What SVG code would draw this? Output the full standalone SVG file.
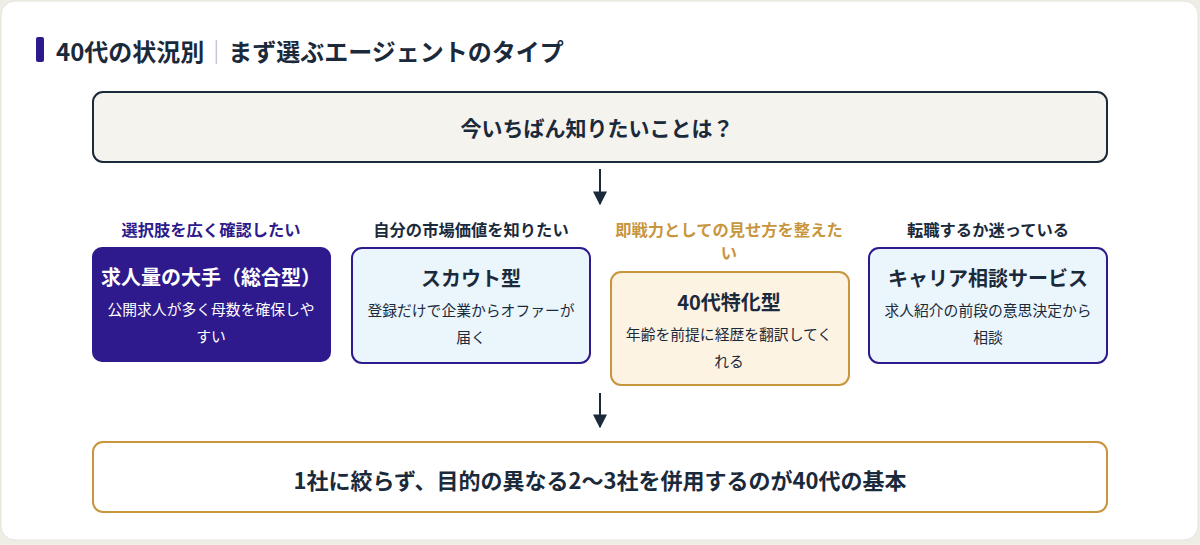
<svg xmlns="http://www.w3.org/2000/svg" width="1200" height="545" viewBox="0 0 1200 545">
<defs>
<style>
text{font-family:"Noto Sans CJK JP","Noto Sans",sans-serif;text-anchor:middle;}
.dark{fill:#1b2a3b;}
.q{font-size:16.3px;font-weight:700;}
.t{font-size:20px;font-weight:700;}
.s{font-size:14.8px;}
.conn{stroke:#1b2a3b;stroke-width:2;fill:none;marker-end:url(#ah);}
</style>
<marker id="ah" viewBox="0 0 10 10" refX="9" refY="5" markerWidth="7" markerHeight="7" orient="auto" markerUnits="strokeWidth">
<path d="M0,0 L10,5 L0,10 z" fill="#1b2a3b"/>
</marker>
</defs>
<rect x="0" y="0" width="1200" height="545" fill="#eeede6"/>
<rect x="1" y="1" width="1197" height="539" rx="14" fill="#ffffff" stroke="#e6e4da" stroke-width="1"/>
<g id="title">
<rect x="36" y="37" width="8" height="25" rx="2" fill="#2e1a8c"/>
<text x="56" y="61" style="text-anchor:start;font-size:24px;font-weight:700" class="dark">40代の状況別<tspan fill="#b8b8b8" font-weight="400">｜</tspan>まず選ぶエージェントのタイプ</text>
</g>
<g id="question">
<rect x="93" y="92" width="1014" height="70" rx="10" fill="#f4f3ee" stroke="#1b2a3b" stroke-width="2"/>
<text x="597" y="136" style="font-size:21px;font-weight:700" class="dark">今いちばん知りたいことは？</text>
</g>
<g id="opt1">
<text x="211" y="236" class="q" fill="#2e1a8c">選択肢を広く確認したい</text>
<rect x="92" y="247" width="239" height="115" rx="10" fill="#2e1a8c"/>
<text x="211" y="285" class="t" fill="#ffffff">求人量の大手（総合型）</text>
<text x="211" y="315" class="s" fill="#ffffff">公開求人が多く母数を確保しや</text>
<text x="211" y="342" class="s" fill="#ffffff">すい</text>
</g>
<g id="opt2">
<text x="471" y="236" class="q dark">自分の市場価値を知りたい</text>
<rect x="352" y="248" width="238" height="115" rx="10" fill="#eaf6fc" stroke="#2e1a8c" stroke-width="2"/>
<text x="471" y="286" class="t dark">スカウト型</text>
<text x="471" y="316" class="s dark">登録だけで企業からオファーが</text>
<text x="471" y="343" class="s dark">届く</text>
</g>
<g id="opt3">
<text x="729" y="236" class="q" fill="#c8963e">即戦力としての見せ方を整えた</text>
<text x="729" y="259" class="q" fill="#c8963e">い</text>
<rect x="611" y="272" width="238" height="113" rx="10" fill="#fdf3e3" stroke="#c8963e" stroke-width="2"/>
<text x="729" y="310" class="t dark">40代特化型</text>
<text x="729" y="340" class="s dark">年齢を前提に経歴を翻訳してく</text>
<text x="729" y="367" class="s dark">れる</text>
</g>
<g id="opt4">
<text x="988" y="236" class="q dark">転職するか迷っている</text>
<rect x="869" y="248" width="238" height="115" rx="10" fill="#eaf6fc" stroke="#2e1a8c" stroke-width="2"/>
<text x="988" y="286" class="t dark">キャリア相談サービス</text>
<text x="988" y="316" class="s dark">求人紹介の前段の意思決定から</text>
<text x="988" y="343" class="s dark">相談</text>
</g>
<g id="conclusion">
<rect x="93" y="442" width="1014" height="70" rx="10" fill="#ffffff" stroke="#c8963e" stroke-width="2"/>
<text x="600" y="489" style="font-size:22px;font-weight:700" class="dark">1社に絞らず、目的の異なる2〜3社を併用するのが40代の基本</text>
</g>
<g id="connectors">
<line x1="600" y1="169" x2="600" y2="204" class="conn"/>
<line x1="600" y1="393" x2="600" y2="427" class="conn"/>
</g>
</svg>
